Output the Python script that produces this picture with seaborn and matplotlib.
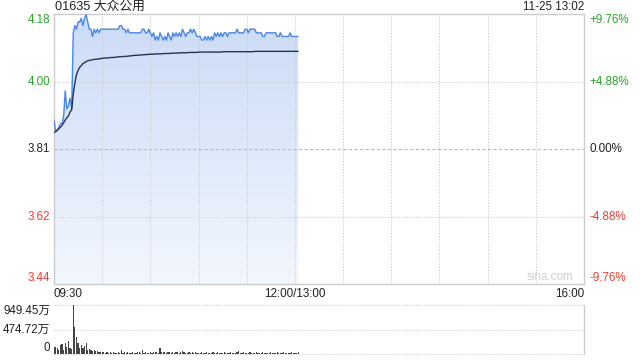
import numpy as np
import pandas as pd
import matplotlib
matplotlib.use("Agg")
import matplotlib.pyplot as plt
import seaborn as sns
from matplotlib.patches import Polygon
from matplotlib.colors import LinearSegmentedColormap

# ---------------- data ----------------
title = "01635 大众公用"
stamp = "11-25 13:02"
prev_close = 3.81
limit_pct = 9.76
half_pct = 4.88
session_minutes = 330          # 09:30-12:00 + 13:00-16:00
grid_step = 30

price = [
    3.89, 3.86, 3.86, 3.87, 3.88, 3.88, 3.90, 3.97, 3.92, 3.93,
    3.95, 3.92, 4.13, 4.15, 4.14, 4.16, 4.16, 4.17, 4.15, 4.17,
    4.18, 4.16, 4.14, 4.14, 4.12, 4.14, 4.13, 4.14, 4.13, 4.14,
    4.14, 4.14, 4.14, 4.14, 4.14, 4.14, 4.14, 4.14, 4.14, 4.14,
    4.14, 4.15, 4.15, 4.14, 4.14, 4.13, 4.14, 4.13, 4.13, 4.13,
    4.13, 4.13, 4.13, 4.13, 4.13, 4.14, 4.14, 4.13, 4.13, 4.14,
    4.13, 4.12, 4.13, 4.11, 4.12, 4.11, 4.13, 4.12, 4.11, 4.12,
    4.11, 4.13, 4.12, 4.11, 4.13, 4.12, 4.13, 4.12, 4.13, 4.12,
    4.14, 4.13, 4.12, 4.13, 4.13, 4.14, 4.13, 4.14, 4.13, 4.12,
    4.12, 4.12, 4.11, 4.11, 4.12, 4.11, 4.12, 4.11, 4.12, 4.11,
    4.13, 4.12, 4.13, 4.12, 4.13, 4.12, 4.13, 4.13, 4.12, 4.13,
    4.13, 4.13, 4.13, 4.13, 4.14, 4.13, 4.13, 4.13, 4.13, 4.14,
    4.14, 4.13, 4.14, 4.14, 4.14, 4.14, 4.13, 4.13, 4.13, 4.13,
    4.12, 4.12, 4.13, 4.13, 4.13, 4.13, 4.13, 4.13, 4.13, 4.12,
    4.12, 4.13, 4.12, 4.12, 4.12, 4.12, 4.12, 4.13, 4.12, 4.12,
    4.12, 4.12, 4.12,
]

avg = [
    3.855, 3.858, 3.862, 3.866, 3.870, 3.875, 3.882, 3.890, 3.896, 3.901,
    3.912, 3.918, 3.962, 3.992, 4.015, 4.027, 4.035, 4.040, 4.045, 4.048,
    4.051, 4.053, 4.054, 4.055, 4.056, 4.057, 4.057, 4.058, 4.058, 4.059,
    4.060, 4.060, 4.061, 4.061, 4.061, 4.062, 4.062, 4.062, 4.063, 4.063,
    4.064, 4.064, 4.064, 4.065, 4.065, 4.065, 4.066, 4.066, 4.067, 4.067,
    4.068, 4.068, 4.068, 4.069, 4.069, 4.069, 4.070, 4.070, 4.070, 4.071,
    4.071, 4.071, 4.071, 4.072, 4.072, 4.072, 4.072, 4.072, 4.073, 4.073,
    4.073, 4.073, 4.073, 4.074, 4.074, 4.074, 4.074, 4.074, 4.075, 4.075,
    4.075, 4.075, 4.075, 4.075, 4.076, 4.076, 4.076, 4.076, 4.076, 4.076,
    4.077, 4.077, 4.077, 4.077, 4.077, 4.077, 4.077, 4.077, 4.077, 4.077,
    4.077, 4.077, 4.077, 4.077, 4.077, 4.078, 4.078, 4.078, 4.078, 4.078,
    4.078, 4.078, 4.078, 4.078, 4.078, 4.078, 4.078, 4.078, 4.078, 4.078,
    4.078, 4.078, 4.078, 4.078, 4.078, 4.079, 4.079, 4.079, 4.079, 4.079,
    4.079, 4.079, 4.079, 4.079, 4.079, 4.079, 4.079, 4.079, 4.079, 4.079,
    4.079, 4.079, 4.079, 4.079, 4.079, 4.079, 4.079, 4.079, 4.079, 4.079,
    4.079, 4.079, 4.079,
]

volume = [  # 万
    142, 129, 110, 78, 175, 188, 78, 207, 142, 252,
    110, 95, 949.45, 530, 337, 207, 110, 175, 110, 155,
    220, 78, 90, 78, 65, 78, 52, 65, 40, 35,
    30, 45, 25, 30, 20, 35, 25, 30, 20, 25,
    30, 25, 75, 20, 30, 25, 35, 20, 25, 30,
    20, 25, 30, 35, 25, 70, 20, 30, 25, 20,
    30, 25, 40, 35, 30, 25, 110, 40, 35, 30,
    25, 30, 35, 20, 30, 25, 40, 30, 25, 35,
    60, 30, 25, 20, 30, 25, 35, 20, 30, 25,
    20, 25, 30, 20, 25, 30, 20, 25, 20, 30,
    25, 20, 30, 25, 20, 25, 30, 20, 25, 20,
    30, 25, 20, 25, 30, 60, 25, 20, 30, 25,
    20, 25, 30, 20, 25, 20, 30, 25, 20, 25,
    30, 20, 25, 20, 25, 30, 20, 25, 20, 30,
    25, 20, 25, 30, 20, 25, 20, 25, 30, 20,
    25, 20, 30,
]

minute = list(range(len(price)))

price_labels = ["4.18", "4.00", "3.81", "3.62", "3.44"]
pct_labels = ["+9.76%", "+4.88%", "0.00%", "-4.88%", "-9.76%"]
level_pcts = [limit_pct, half_pct, 0.0, -half_pct, -limit_pct]
time_labels = ["09:30", "12:00/13:00", "16:00"]
time_ticks = [0, 150, 330]
vol_max = 949.45
vol_labels = ["949.45万", "474.72万", "0"]
vol_levels = [vol_max, vol_max / 2, 0]

# ---------------- style ----------------
sns.set_theme(style="white")
plt.rcParams["font.family"] = ["Liberation Sans", "Noto Sans CJK SC", "DejaVu Sans"]

UP = "#2aa52a"
DOWN = "#f03c32"
FLAT = "#222222"
GRID = "#cccccc"
FS = 8.4

df = pd.DataFrame({"minute": minute, "price": price, "avg": avg, "volume": volume})

fig = plt.figure(figsize=(6.4, 3.6), dpi=100)
ax = fig.add_axes([54 / 640, 1 - 284 / 360, 530 / 640, 270 / 360])
axv = fig.add_axes([54 / 640, 1 - 354 / 360, 530 / 640, 49 / 360])

ymax = prev_close * (1 + limit_pct / 100)
ymin = prev_close * (1 - limit_pct / 100)

# gradient area under price
verts = [(minute[0], ymin)] + list(zip(minute, price)) + [(minute[-1], ymin)]
poly = Polygon(verts, closed=True, facecolor="none", edgecolor="none")
ax.add_patch(poly)
cmap = LinearSegmentedColormap.from_list("g", ["#f3f7fe", "#cbdbf6"])
grad = np.linspace(1, 0, 256).reshape(-1, 1)
im = ax.imshow(grad, extent=[minute[0], minute[-1], ymin, max(price)],
               aspect="auto", cmap=cmap, origin="upper", zorder=1)
im.set_clip_path(poly)

# grid
for t in range(grid_step, session_minutes, grid_step):
    ax.axvline(t, color=GRID, lw=0.8, ls=(0, (1, 1.5)), zorder=2)
for p in (half_pct, -half_pct):
    ax.axhline(prev_close * (1 + p / 100), color=GRID, lw=0.8, ls=(0, (1, 1.5)), zorder=2)
ax.axhline(prev_close, color="#bbbbbb", lw=0.8, ls=(0, (3, 2)), zorder=2)

sns.lineplot(data=df, x="minute", y="price", ax=ax, color="#4a86e6", lw=1.0, zorder=4)
sns.lineplot(data=df, x="minute", y="avg", ax=ax, color="#26324f", lw=1.0, zorder=4)

ax.set_xlim(0, session_minutes)
ax.set_ylim(ymin, ymax)
ax.set_xticks([])
ax.set_yticks([])
ax.set_xlabel("")
ax.set_ylabel("")
for s in ax.spines.values():
    s.set_color(GRID)
    s.set_linewidth(1)

# price / percentage labels
for lab, plab, pc in zip(price_labels, pct_labels, level_pcts):
    yv = prev_close * (1 + pc / 100)
    col = UP if pc > 0 else (DOWN if pc < 0 else FLAT)
    va = "top" if pc == limit_pct else ("bottom" if pc == -limit_pct else "center")
    ax.annotate(lab, xy=(0, yv), xycoords=("axes fraction", "data"),
                xytext=(-4, 0), textcoords="offset pixels",
                ha="right", va=va, color=col, fontsize=FS)
    ax.annotate(plab, xy=(1, yv), xycoords=("axes fraction", "data"),
                xytext=(5, 0), textcoords="offset pixels",
                ha="left", va=va, color=col, fontsize=FS)

for lab, t, ha in zip(time_labels, time_ticks, ["left", "center", "right"]):
    ax.annotate(lab, xy=(t, ymin), xycoords="data", xytext=(0, -4),
                textcoords="offset pixels", ha=ha, va="top", color=FLAT, fontsize=FS)

ax.annotate(title, xy=(0, 1), xycoords="axes fraction", xytext=(1, 1),
            textcoords="offset pixels", ha="left", va="bottom", color=FLAT, fontsize=9.2)
ax.annotate(stamp, xy=(1, 1), xycoords="axes fraction", xytext=(0, 1),
            textcoords="offset pixels", ha="right", va="bottom", color=FLAT, fontsize=FS)
ax.annotate("sina.com", xy=(1, 0), xycoords="axes fraction", xytext=(-11, 1),
            textcoords="offset pixels", ha="right", va="bottom", color="#cfcfcf", fontsize=FS)

# ---------------- volume ----------------
axv.bar(df["minute"], df["volume"], width=0.75, color="#444444", linewidth=0, zorder=3)
axv.set_xlim(0, session_minutes)
axv.set_ylim(0, vol_max)
axv.set_xticks([])
axv.set_yticks([])
for k in ("top", "bottom", "left"):
    axv.spines[k].set_visible(False)
axv.spines["right"].set_color(GRID)
axv.spines["right"].set_linewidth(1)
for v in vol_levels:
    axv.axhline(v, color=GRID, lw=0.8, ls=(0, (1, 1.5)), zorder=1, clip_on=False)
for lab, v, va in zip(vol_labels, vol_levels, ["top", "center", "bottom"]):
    axv.annotate(lab, xy=(0, v), xycoords=("axes fraction", "data"),
                 xytext=(-4, 0), textcoords="offset pixels",
                 ha="right", va=va, color=FLAT, fontsize=FS)

fig.savefig("out.png", dpi=100)
